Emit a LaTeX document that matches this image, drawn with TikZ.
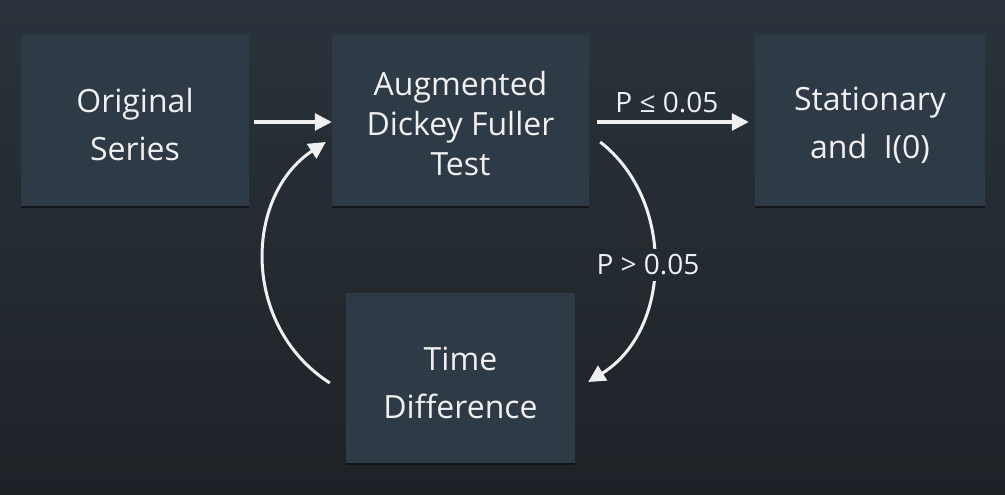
\documentclass[tikz,border=0pt]{standalone}
\usepackage{fontspec}
\setmainfont{Open Sans}
\usetikzlibrary{arrows.meta,shadows}
\definecolor{bgtop}{HTML}{2A333B}
\definecolor{bgbot}{HTML}{1D2227}
\definecolor{bgmid}{HTML}{232A31}
\definecolor{boxc}{HTML}{2E3A45}
\definecolor{txt}{HTML}{F0F0F0}
\newcommand\topgap[1]{\rule{0pt}{#1}}
\begin{document}
\begin{tikzpicture}[x=1pt,y=-1pt,
  box/.style={rectangle, fill=boxc, text=txt, align=center, inner sep=0pt,
    minimum height=171pt,
    font=\fontsize{32}{48}\selectfont,
    drop shadow={shadow xshift=0pt, shadow yshift=-2pt, opacity=0.45, fill=black}},
  arr/.style={draw=txt, line width=3pt, -{Triangle[length=17pt,width=17pt]}},
  lbl/.style={text=txt, inner sep=3pt, font=\fontsize{28}{32}\selectfont}]
\shade[top color=bgtop, bottom color=bgbot] (0,0) rectangle (1005,495);
\useasboundingbox (0,0) rectangle (1005,495);

\node[box, minimum width=228pt] (orig) at (135,120.5) {\topgap{33pt}Original\\Series};
\node[box, minimum width=257pt, font=\fontsize{32}{40}\selectfont] (adf) at (460.5,120.5) {\topgap{30pt}Augmented\\Dickey Fuller\\Test};
\node[box, minimum width=230pt] (stat) at (870,120.5) {\topgap{33pt}Stationary\\and~~I(0)};
\node[box, minimum width=229pt, minimum height=170pt] (td) at (460.5,378) {\topgap{33pt}Time\\Difference};

\draw[arr] ([shift={(5,1.5)}]orig.east) -- ([shift={(0,1.5)}]adf.west);
\draw[arr] ([shift={(8,1.5)}]adf.east) -- node[lbl, above=5pt, pos=0.46] (lle) {P ≤ 0.05} ([shift={(-6,1.5)}]stat.west);
\draw[arr] ([shift={(11,21.5)}]adf.east) .. controls (675,200) and (672,330) .. ([shift={(13,4)}]td.east);
\node[lbl, fill=bgmid, inner ysep=6pt] (lgt) at (648,265) {P > 0.05};
\draw[arr] ([shift={(-16,5)}]td.west) .. controls (240,325) and (245,195) .. ([shift={(-6,21.5)}]adf.west);
\end{tikzpicture}
\end{document}
